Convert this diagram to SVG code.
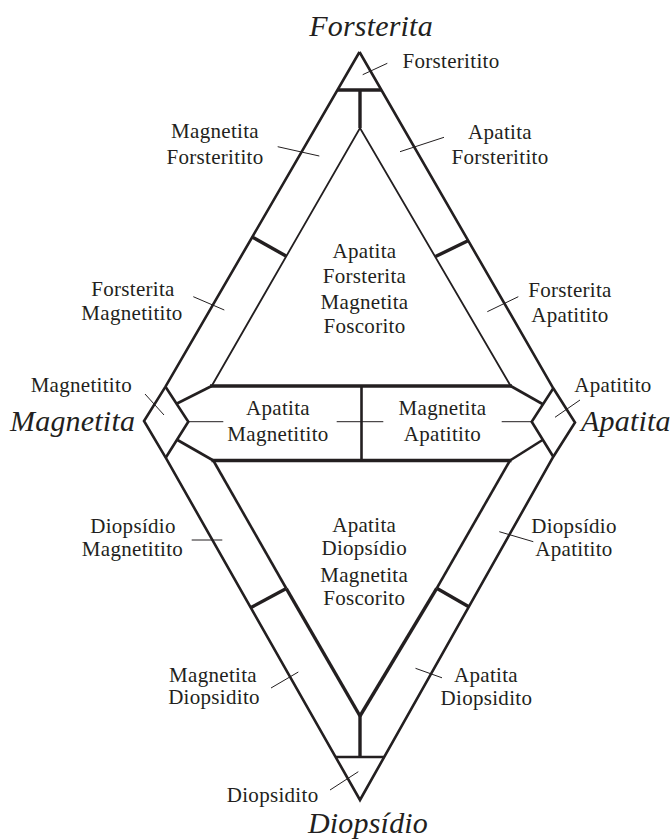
<svg xmlns="http://www.w3.org/2000/svg" width="671" height="839" viewBox="0 0 671 839">
<style>
.ln{fill:none;stroke:#231f20;stroke-linecap:butt;stroke-linejoin:miter}
.o{stroke-width:2.6}
.t{stroke-width:1.8}
.k{stroke-width:3.4}
.tick{fill:none;stroke:#231f20;stroke-width:1}
.lb{font-family:"Liberation Serif","Times New Roman",serif;font-size:21px;letter-spacing:0.3px;fill:#231f20;text-anchor:middle}
.tt{font-family:"Liberation Serif","Times New Roman",serif;font-size:30px;font-style:italic;fill:#231f20;letter-spacing:0.2px}
</style>
<rect width="671" height="839" fill="#ffffff"/>
<g id="frame">
  <!-- outer diamond -->
  <polyline class="ln o" points="359.5,52 165.5,386.7 144,421 165.7,457.7 360,800 553.3,456.7 575,422.5 553.3,388.3 359.5,52"/>
  <!-- small diamond inner edges -->
  <polyline class="ln o" points="165.5,386.7 188.3,421.7 165.7,457.7"/>
  <polyline class="ln o" points="553.3,388.3 531.7,421.7 553.3,456.7"/>
  <!-- connectors to small diamonds -->
  <line class="ln o" x1="211.7" y1="386" x2="177" y2="403.5"/>
  <line class="ln o" x1="213.3" y1="460.5" x2="177.5" y2="440"/>
  <line class="ln o" x1="510.7" y1="386" x2="542.5" y2="404"/>
  <line class="ln o" x1="510" y1="460.5" x2="542.5" y2="440"/>
  <!-- upper inner triangle -->
  <polyline class="ln t" points="211.7,386 360,128 510.7,386"/>
  <!-- central horizontals and divider -->
  <line class="ln k" x1="210" y1="386" x2="512" y2="386"/>
  <line class="ln k" x1="211.5" y1="460.5" x2="511.5" y2="460.5"/>
  <line class="ln o" x1="361.5" y1="386" x2="361.5" y2="460.5"/>
  <!-- lower inner V -->
  <line class="ln o" x1="213.3" y1="460.5" x2="286.3" y2="588.5"/>
  <line class="ln k" x1="286.3" y1="588.5" x2="360" y2="716"/>
  <line class="ln o" x1="510" y1="460.5" x2="436.7" y2="588.3"/>
  <line class="ln k" x1="436.7" y1="588.3" x2="360" y2="716"/>
  <!-- top T -->
  <line class="ln k" x1="337.3" y1="90" x2="381.5" y2="90"/>
  <line class="ln k" x1="360" y1="90" x2="360" y2="128"/>
  <!-- bottom T -->
  <line class="ln k" x1="360" y1="716" x2="360" y2="757"/>
  <line class="ln o" x1="335.6" y1="757" x2="384.5" y2="757"/>
  <!-- band cross bars -->
  <line class="ln k" x1="251.7" y1="236.7" x2="286" y2="256"/>
  <line class="ln k" x1="435.5" y1="256.5" x2="468" y2="240.8"/>
  <line class="ln k" x1="251" y1="607.5" x2="286.3" y2="588.5"/>
  <line class="ln k" x1="436.7" y1="588.3" x2="468.8" y2="606.8"/>
</g>
<g id="vertex-forsterita"><text class="tt" x="371" y="36" text-anchor="middle">Forsterita</text></g>
<g id="vertex-magnetita"><text class="tt" x="10" y="430.7">Magnetita</text></g>
<g id="vertex-apatita"><text class="tt" x="581" y="430.7">Apatita</text></g>
<g id="vertex-diopsidio"><text class="tt" x="368" y="833.3" text-anchor="middle">Diopsídio</text></g>

<g id="forsteritito">
  <line class="tick" x1="362.7" y1="74.7" x2="387.3" y2="63.3"/>
  <text class="lb" x="451" y="68.3">Forsteritito</text>
</g>
<g id="magnetita-forsteritito">
  <line class="tick" x1="277.7" y1="146.7" x2="319.3" y2="156"/>
  <text class="lb" x="215" y="138.3">Magnetita</text>
  <text class="lb" x="215" y="164">Forsteritito</text>
</g>
<g id="apatita-forsteritito">
  <line class="tick" x1="400" y1="151.7" x2="444" y2="137.3"/>
  <text class="lb" x="500" y="139.3">Apatita</text>
  <text class="lb" x="500" y="164.3">Forsteritito</text>
</g>
<g id="forsterita-magnetitito">
  <line class="tick" x1="193.3" y1="296.7" x2="224.3" y2="310"/>
  <text class="lb" x="133" y="295.5">Forsterita</text>
  <text class="lb" x="132" y="320">Magnetitito</text>
</g>
<g id="forsterita-apatitito">
  <line class="tick" x1="487.3" y1="311.7" x2="518.3" y2="296.7"/>
  <text class="lb" x="570" y="296.5">Forsterita</text>
  <text class="lb" x="570" y="321.5">Apatitito</text>
</g>
<g id="foscorito-forsterita">
  <text class="lb" x="364.5" y="257.5">Apatita</text>
  <text class="lb" x="364.5" y="283.3">Forsterita</text>
  <text class="lb" x="364.5" y="309.3">Magnetita</text>
  <text class="lb" x="364.5" y="332.7">Foscorito</text>
</g>
<g id="magnetitito">
  <line class="tick" x1="145" y1="394" x2="164" y2="415"/>
  <text class="lb" x="81.3" y="391.7">Magnetitito</text>
</g>
<g id="apatitito">
  <line class="tick" x1="555" y1="417.3" x2="580" y2="400"/>
  <text class="lb" x="613" y="391.7">Apatitito</text>
</g>
<g id="apatita-magnetitito">
  <line class="tick" x1="188.3" y1="421.7" x2="223.3" y2="421.7"/>
  <line class="tick" x1="336.7" y1="421.7" x2="361.5" y2="421.7"/>
  <text class="lb" x="278" y="415">Apatita</text>
  <text class="lb" x="278" y="440.7">Magnetitito</text>
</g>
<g id="magnetita-apatitito">
  <line class="tick" x1="361.5" y1="421.7" x2="383.3" y2="421.7"/>
  <line class="tick" x1="501.7" y1="421.7" x2="531.7" y2="421.7"/>
  <text class="lb" x="442.5" y="415">Magnetita</text>
  <text class="lb" x="442.5" y="440.7">Apatitito</text>
</g>
<g id="foscorito-diopsidio">
  <text class="lb" x="364.2" y="531.7">Apatita</text>
  <text class="lb" x="364.2" y="555">Diopsídio</text>
  <text class="lb" x="364.2" y="581.7">Magnetita</text>
  <text class="lb" x="364.2" y="605">Foscorito</text>
</g>
<g id="diopsidio-magnetitito">
  <line class="tick" x1="191.7" y1="540" x2="222.3" y2="540"/>
  <text class="lb" x="133" y="533.3">Diopsídio</text>
  <text class="lb" x="132.5" y="556">Magnetitito</text>
</g>
<g id="diopsidio-apatitito">
  <line class="tick" x1="499.3" y1="531.7" x2="533.3" y2="541.7"/>
  <text class="lb" x="574" y="533.3">Diopsídio</text>
  <text class="lb" x="574" y="556">Apatitito</text>
</g>
<g id="magnetita-diopsidito">
  <line class="tick" x1="271" y1="688" x2="298.3" y2="672"/>
  <text class="lb" x="213" y="681.7">Magnetita</text>
  <text class="lb" x="214" y="703.5">Diopsidito</text>
</g>
<g id="apatita-diopsidito">
  <line class="tick" x1="415.5" y1="668.3" x2="442" y2="677.8"/>
  <text class="lb" x="486" y="681.7">Apatita</text>
  <text class="lb" x="486.4" y="705">Diopsidito</text>
</g>
<g id="diopsidito">
  <line class="tick" x1="330" y1="790" x2="358.3" y2="771.7"/>
  <text class="lb" x="272.6" y="802.3">Diopsidito</text>
</g>
</svg>
